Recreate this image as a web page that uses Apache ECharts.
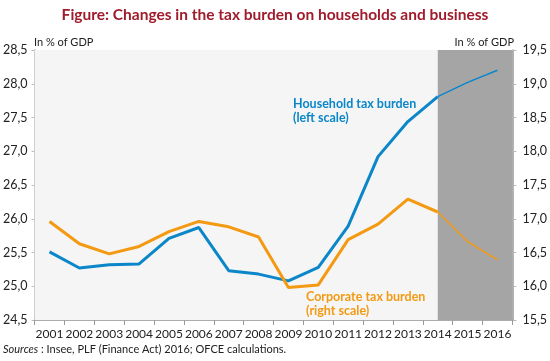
<!DOCTYPE html>
<html><head><meta charset="utf-8">
<script src="https://cdn.jsdelivr.net/npm/echarts@6/dist/echarts.min.js"></script>
<style>html,body{margin:0;padding:0;background:#fff}#c{width:550px;height:361px}</style>
</head><body><div id="c"></div>
<script>
var years = ['2001','2002','2003','2004','2005','2006','2007','2008','2009','2010','2011','2012','2013','2014','2015','2016'];
var household = [25.51,25.27,25.32,25.33,25.71,25.87,25.23,25.18,25.08,25.28,25.89,26.92,27.44,27.81,28.02,28.20];
var corporate = [16.96,16.63,16.48,16.59,16.81,16.96,16.88,16.73,15.98,16.02,16.69,16.92,17.29,17.10,16.66,16.39];
var forecastStart = 13; // index of 2014
var FONT = "Lato, 'Open Sans', sans-serif";

function solid(arr){ return arr.map(function(v,i){ return i<=forecastStart ? v : null; }); }
function thin(arr){ return arr.map(function(v,i){ return i>=forecastStart ? v : null; }); }
function fmt(v){ return v.toFixed(1).replace('.', ','); }

var chart = echarts.init(document.getElementById('c'));
chart.setOption({
  animation: false,
  title: {
    text: 'Figure: Changes in the tax burden on households and business',
    left: 'center', top: 2,
    textStyle: { color: '#a01b2b', fontSize: 15.5, fontWeight: 'bold', fontFamily: FONT }
  },
  grid: { left: 33, right: 34, top: 50, bottom: 41, containLabel: false },
  xAxis: [{
    type: 'category', data: years, boundaryGap: true,
    axisLine: { lineStyle: { color: '#9a9a9a', width: 1.5 } },
    axisTick: { show: true, interval: 0, length: 5, lineStyle: { color: '#9a9a9a' } },
    axisLabel: { color: '#222', fontSize: 12, fontFamily: FONT, margin: 8, interval: 0 },
    splitLine: { show: false }
  }, {
    type: 'value', min: 0, max: 16, show: false
  }],
  yAxis: [{
    type: 'value', min: 24.5, max: 28.5, interval: 0.5, position: 'left',
    axisLine: { show: true, lineStyle: { color: '#9a9a9a', width: 1.5 } },
    axisTick: { show: true, length: 3, lineStyle: { color: '#bbb' } },
    axisLabel: { color: '#222', fontSize: 12.5, fontFamily: FONT, margin: 7, formatter: fmt },
    splitLine: { show: true, lineStyle: { color: '#e2e2e2', width: 1 } }
  }, {
    type: 'value', min: 15.5, max: 19.5, interval: 0.5, position: 'right',
    axisLine: { show: true, lineStyle: { color: '#9a9a9a', width: 1.5 } },
    axisTick: { show: true, length: 4, lineStyle: { color: '#bbb' } },
    axisLabel: { color: '#222', fontSize: 12.5, fontFamily: FONT, margin: 10, formatter: fmt },
    splitLine: { show: false }
  }],
  series: [
    {
      type: 'line', xAxisIndex: 1, yAxisIndex: 0, z: -1, data: [[0, 24.5]],
      showSymbol: false, symbol: 'none', lineStyle: { width: 0 }, silent: true,
      markArea: {
        silent: true,
        data: [
          [{ xAxis: 0, itemStyle: { color: '#f5f5f5' } }, { xAxis: forecastStart + 0.5 }],
          [{ xAxis: forecastStart + 0.5, itemStyle: { color: '#a6a5a5' } }, { xAxis: 16 }]
        ]
      }
    },
    { name: 'Household', type: 'line', yAxisIndex: 0, data: solid(household), symbol: 'none',
      lineStyle: { color: '#0a86c9', width: 3 }, itemStyle: { color: '#0a86c9' } },
    { name: 'Household f', type: 'line', yAxisIndex: 0, data: thin(household), symbol: 'none',
      lineStyle: { color: '#0a86c9', width: 1.5 } },
    { name: 'Corporate', type: 'line', yAxisIndex: 1, data: solid(corporate), symbol: 'none',
      lineStyle: { color: '#f39a12', width: 3 } },
    { name: 'Corporate f', type: 'line', yAxisIndex: 1, data: thin(corporate), symbol: 'none',
      lineStyle: { color: '#f39a12', width: 1.5 } }
  ],
  graphic: [
    { type: 'text', z: 100, left: 34, top: 37, style: { text: 'In % of GDP', fill: '#222', fontSize: 11, fontFamily: FONT } },
    { type: 'text', z: 100, right: 36, top: 37, style: { text: 'In % of GDP', fill: '#222', fontSize: 11, fontFamily: FONT } },
    { type: 'text', z: 100, left: 293, top: 97, style: { text: 'Household tax burden\n(left scale)', fill: '#0a86c9', fontSize: 12.5, fontWeight: 'bold', fontFamily: FONT, lineHeight: 14 } },
    { type: 'text', z: 100, left: 306, top: 290, style: { text: 'Corporate tax burden\n(right scale)', fill: '#f39a12', fontSize: 12.5, fontWeight: 'bold', fontFamily: FONT, lineHeight: 14 } },
    { type: 'text', z: 100, left: 3, top: 344, style: {
      text: '{i|Sources} : Insee, PLF (Finance Act) 2016; OFCE calculations.',
      fill: '#222', fontSize: 11, fontFamily: FONT,
      rich: { i: { fontStyle: 'italic', fontSize: 11, fontFamily: FONT, fill: '#222' } }
    } }
  ]
});
</script></body></html>
